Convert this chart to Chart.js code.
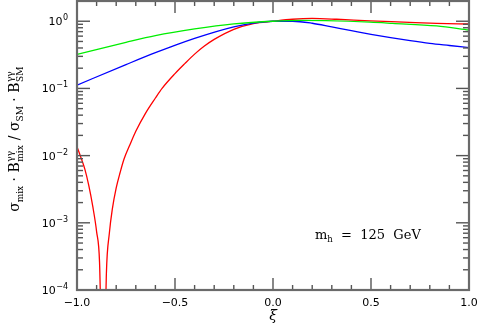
<!DOCTYPE html>
<html>
<head>
<meta charset="utf-8">
<script src="https://cdn.jsdelivr.net/npm/chart.js@4.4.1/dist/chart.umd.min.js"></script>
<style>
html,body{margin:0;padding:0;background:#fff;}
#wrap{width:479px;height:327px;position:relative;}
</style>
</head>
<body>
<div id="wrap"><canvas id="c" width="479" height="327"></canvas></div>
<script>
// ---- data ----
const redXi   = [-1, -0.98, -0.96, -0.94, -0.92, -0.90, -0.885, -0.8655, -0.85, -0.835, -0.82, -0.80, -0.78, -0.76, -0.73, -0.70, -0.65, -0.60, -0.566, -0.50, -0.45, -0.40, -0.35, -0.30, -0.20, -0.10, 0, 0.1, 0.2, 0.325, 0.495, 0.665, 0.835, 1.0];
const redVal  = [0.0136, 0.0094, 0.0063, 0.0036, 0.00178, 0.00074, 0.00026, 0.000001, 0.000178, 0.0007, 0.00158, 0.0033, 0.0056, 0.0089, 0.0145, 0.023, 0.043, 0.072, 0.10, 0.166, 0.234, 0.324, 0.427, 0.537, 0.759, 0.923, 1.0, 1.07, 1.10, 1.07, 1.01, 0.97, 0.93, 0.91];
const greenXi  = [-1, -0.75, -0.6, -0.4, -0.2, 0, 0.155, 0.27, 0.495, 0.61, 0.835, 1.0];
const greenVal = [0.32, 0.484, 0.61, 0.767, 0.912, 1.0, 1.03, 1.02, 0.97, 0.93, 0.85, 0.74];
const blueXi   = [-1, -0.75, -0.6, -0.4, -0.2, -0.1, 0, 0.1, 0.2, 0.3, 0.4, 0.5, 0.6, 0.7, 0.8, 0.9, 1.0];
const blueVal  = [0.112, 0.226, 0.34, 0.556, 0.826, 0.938, 1.0, 1.0, 0.933, 0.822, 0.724, 0.638, 0.569, 0.513, 0.468, 0.435, 0.405];

const xMajorTicks = [-1.0, -0.5, 0.0, 0.5, 1.0];
const xTickLabels = ['\u22121.0', '\u22120.5', '0.0', '0.5', '1.0'];
const xMinorTicks = [-0.9,-0.8,-0.7,-0.6,-0.4,-0.3,-0.2,-0.1,0.1,0.2,0.3,0.4,0.6,0.7,0.8,0.9];
const yDecades = [1e-4, 1e-3, 1e-2, 1e-1, 1e0];
const yExpLabels = ['\u22124', '\u22123', '\u22122', '\u22121', '0'];
const xTitle = '\u03be';
const annotation = {main: 'm', sub: 'h', rest: '  =  125  GeV'};

const pts = (xs, ys) => xs.map((x, i) => ({x: x, y: ys[i]}));

const decor = {
  id: 'decor',
  afterDraw(chart) {
    const ctx = chart.ctx, a = chart.chartArea;
    const xs = chart.scales.x, ys = chart.scales.y;
    ctx.save();
    // ticks
    ctx.strokeStyle = '#555';
    ctx.lineWidth = 1.4;
    const tick = (x1, y1, x2, y2) => { ctx.beginPath(); ctx.moveTo(x1, y1); ctx.lineTo(x2, y2); ctx.stroke(); };
    xMajorTicks.forEach(v => { const p = xs.getPixelForValue(v); tick(p, a.bottom, p, a.bottom - 12); tick(p, a.top, p, a.top + 12); });
    xMinorTicks.forEach(v => { const p = xs.getPixelForValue(v); tick(p, a.bottom, p, a.bottom - 5); tick(p, a.top, p, a.top + 5); });
    yDecades.forEach(d => {
      const p = ys.getPixelForValue(d);
      tick(a.left, p, a.left + 13, p); tick(a.right, p, a.right - 13, p);
      for (let k = 2; k <= 9; k++) {
        const v = d * k; if (v > ys.max) break;
        const q = ys.getPixelForValue(v);
        tick(a.left, q, a.left + 6, q); tick(a.right, q, a.right - 6, q);
      }
    });
    // border
    ctx.strokeStyle = '#6a6a6a';
    ctx.lineWidth = 2.2;
    ctx.strokeRect(a.left, a.top, a.right - a.left, a.bottom - a.top);

    // x tick labels
    ctx.fillStyle = '#000';
    ctx.font = '11px "DejaVu Sans"';
    ctx.textAlign = 'center';
    ctx.textBaseline = 'alphabetic';
    xMajorTicks.forEach((v, i) => ctx.fillText(xTickLabels[i], xs.getPixelForValue(v), 306));
    // x title
    ctx.font = 'italic 14px "DejaVu Serif"';
    ctx.fillText(xTitle, xs.getPixelForValue(0), 320);

    // y tick labels
    yDecades.forEach((d, i) => {
      const p = ys.getPixelForValue(d);
      ctx.font = '8px "DejaVu Sans"';
      const ew = ctx.measureText(yExpLabels[i]).width;
      ctx.textAlign = 'left';
      const right = 68;
      ctx.fillText(yExpLabels[i], right - ew, p - 1);
      ctx.font = '11px "DejaVu Sans"';
      ctx.textAlign = 'right';
      ctx.fillText('10', right - ew - 0.5, p + 4);
    });

    // annotation m_h = 125 GeV
    ctx.textAlign = 'left';
    let ax = 315, ay = 239;
    ctx.font = '13px "DejaVu Serif"';
    ctx.fillText(annotation.main, ax, ay); ax += ctx.measureText(annotation.main).width;
    ctx.font = '8.5px "DejaVu Serif"';
    ctx.fillText(annotation.sub, ax, ay + 3); ax += ctx.measureText(annotation.sub).width;
    ctx.font = '13px "DejaVu Serif"';
    ctx.fillText(annotation.rest, ax, ay);

    // y axis title (rotated)
    const big = '14px "DejaVu Serif"', small = '9px "DejaVu Serif"';
    const segs = [
      {t: '\u03c3', f: big, dy: 0},
      {t: 'mix', f: small, dy: 3.5},
      {t: ' \u00b7 ', f: big, dy: 0},
      {t: 'B', f: big, dy: 0},
      {sup: '\u03b3\u03b3', sub: 'mix'},
      {t: ' / ', f: big, dy: 0},
      {t: '\u03c3', f: big, dy: 0},
      {t: 'SM', f: small, dy: 3.5},
      {t: ' \u00b7 ', f: big, dy: 0},
      {t: 'B', f: big, dy: 0},
      {sup: '\u03b3\u03b3', sub: 'SM'}
    ];
    const widthOf = s => {
      if (s.sup) { ctx.font = small; return Math.max(ctx.measureText(s.sup).width, ctx.measureText(s.sub).width) + 1; }
      ctx.font = s.f; return ctx.measureText(s.t).width;
    };
    const total = segs.reduce((acc, s) => acc + widthOf(s), 0);
    ctx.translate(19, 139);
    ctx.rotate(-Math.PI / 2);
    let cx = -total / 2;
    segs.forEach(s => {
      const w = widthOf(s);
      if (s.sup) {
        ctx.font = small;
        ctx.fillText(s.sup, cx + 0.5, -6.5);
        ctx.fillText(s.sub, cx + 0.5, 3.5);
      } else {
        ctx.font = s.f;
        ctx.fillText(s.t, cx, s.dy);
      }
      cx += w;
    });
    ctx.restore();
  }
};

new Chart(document.getElementById('c'), {
  type: 'line',
  data: {
    datasets: [
      {data: pts(greenXi, greenVal), borderColor: '#00ee00', borderWidth: 1.3, pointRadius: 0, cubicInterpolationMode: 'monotone', fill: false},
      {data: pts(blueXi, blueVal), borderColor: '#0000ff', borderWidth: 1.3, pointRadius: 0, cubicInterpolationMode: 'monotone', fill: false},
      {data: pts(redXi, redVal), borderColor: '#ff0000', borderWidth: 1.3, pointRadius: 0, cubicInterpolationMode: 'monotone', fill: false}
    ]
  },
  options: {
    responsive: false,
    animation: false,
    parsing: false,
    layout: {padding: {left: 77, right: 10, top: 1, bottom: 37}},
    plugins: {legend: {display: false}, tooltip: {enabled: false}},
    scales: {
      x: {type: 'linear', min: -1, max: 1, display: false},
      y: {type: 'logarithmic', min: 1e-4, max: 2, display: false}
    }
  },
  plugins: [decor]
});
</script>
</body>
</html>
